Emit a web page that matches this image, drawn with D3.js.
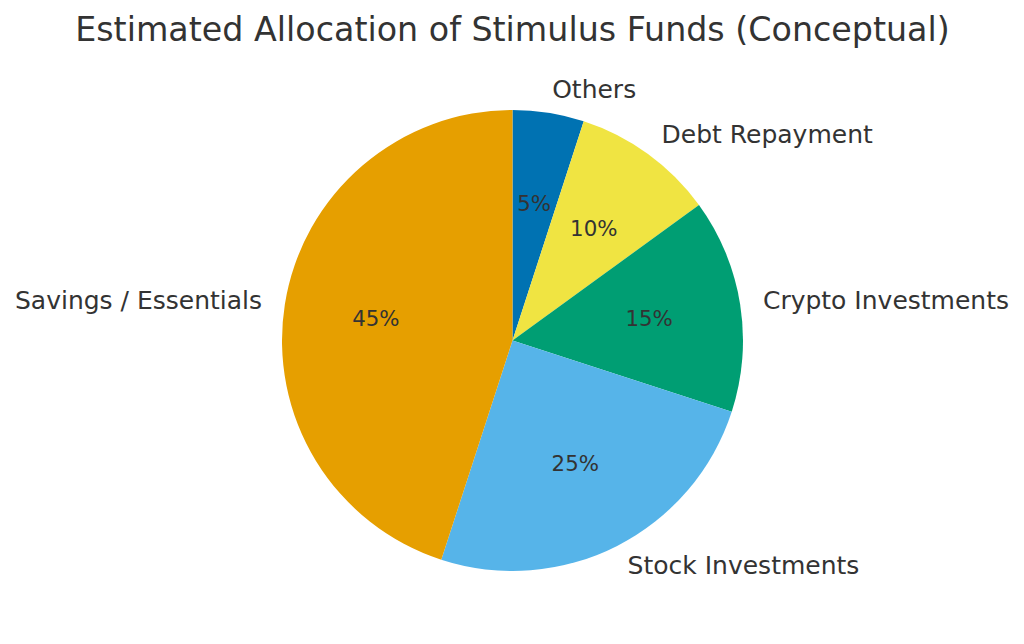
<!DOCTYPE html>
<html>
<head>
<meta charset="utf-8">
<script src="https://cdn.jsdelivr.net/npm/d3@7"></script>
<style>
  body { margin: 0; background: #fff; }
  text { font-family: "DejaVu Sans", sans-serif; fill: #333; }
</style>
</head>
<body>
<div id="viz"></div>
<script>
var categories = ["Others", "Debt Repayment", "Crypto Investments", "Stock Investments", "Savings / Essentials"];
var shares = [5, 10, 15, 25, 45];
var colors = ["#0072B2", "#F0E442", "#009E73", "#56B4E9", "#E69F00"];
var title = "Estimated Allocation of Stimulus Funds (Conceptual)";

var width = 1024, height = 644;
var cx = 512.5, cy = 340.5, radius = 230.5;

var svg = d3.select("#viz").append("svg")
    .attr("width", width)
    .attr("height", height);

svg.append("text")
    .attr("x", 512.5)
    .attr("y", 41)
    .attr("text-anchor", "middle")
    .style("font-size", "33.3px")
    .text(title);

var data = categories.map(function(c, i) { return { name: c, value: shares[i], color: colors[i] }; });

var pie = d3.pie().sort(null).value(function(d) { return d.value; });
var arc = d3.arc().innerRadius(0).outerRadius(radius);
var arcs = pie(data);

var g = svg.append("g").attr("transform", "translate(" + cx + "," + cy + ")");

g.selectAll("path")
    .data(arcs)
    .enter().append("path")
    .attr("d", arc)
    .attr("fill", function(d) { return d.data.color; });

function mid(d) { return (d.startAngle + d.endAngle) / 2; }

// outer labels at 1.1 r, pct at 0.6 r (matplotlib-like)
g.selectAll(".label")
    .data(arcs)
    .enter().append("text")
    .attr("class", "label")
    .attr("x", function(d) { return 1.1 * radius * Math.sin(mid(d)); })
    .attr("y", function(d) { return -1.1 * radius * Math.cos(mid(d)); })
    .attr("dy", "0.32em")
    .attr("text-anchor", function(d) { return Math.sin(mid(d)) >= 0 ? "start" : "end"; })
    .style("font-size", "25px")
    .text(function(d) { return d.data.name; });

g.selectAll(".pct")
    .data(arcs)
    .enter().append("text")
    .attr("class", "pct")
    .attr("x", function(d) { return 0.6 * radius * Math.sin(mid(d)); })
    .attr("y", function(d) { return -0.6 * radius * Math.cos(mid(d)); })
    .attr("dy", "0.33em")
    .attr("text-anchor", "middle")
    .style("font-size", "21.3px")
    .text(function(d) { return d.data.value + "%"; });
</script>
</body>
</html>
